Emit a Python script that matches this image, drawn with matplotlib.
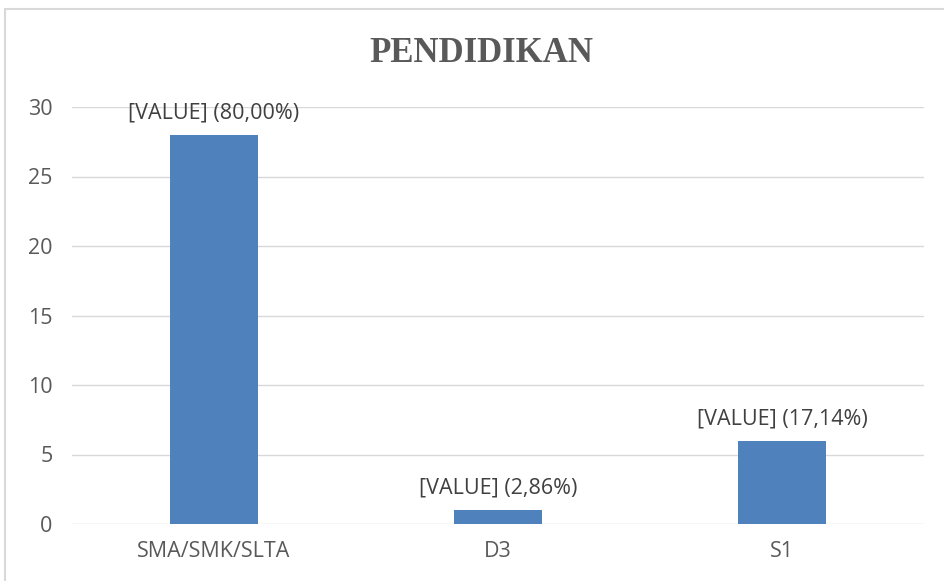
import numpy as np
import matplotlib.pyplot as plt
from matplotlib.patches import Rectangle

categories = ['SMA/SMK/SLTA', 'D3', 'S1']
counts = [28, 1, 6]
percents = ['80,00%', '2,86%', '17,14%']
yticks = [0, 5, 10, 15, 20, 25, 30]

plt.rcParams['font.family'] = ['Open Sans', 'DejaVu Sans']

fig = plt.figure(figsize=(9.44, 5.81), dpi=100)
ax = fig.add_axes([72 / 944, 57 / 581, 852 / 944, 417 / 581])

x = np.arange(len(categories))
ax.bar(x, counts, width=0.31, color='#4F81BD', zorder=3)

for xi, c, p in zip(x, counts, percents):
    ax.annotate('[VALUE] (%s)' % p, (xi, c), xytext=(0, 8), textcoords='offset points',
                ha='center', va='bottom', fontsize=15.5, color='#404040', zorder=4)

ax.set_xlim(-0.5, 2.5)
ax.set_ylim(0, 30)
ax.set_yticks(yticks)
ax.set_xticks(x)
ax.set_xticklabels(categories)
ax.tick_params(axis='both', length=0, labelsize=15.5, labelcolor='#595959')
ax.tick_params(axis='x', pad=12)
ax.tick_params(axis='y', pad=14)
ax.grid(axis='y', color='#D9D9D9', linewidth=1, zorder=0)
for s in ax.spines.values():
    s.set_visible(False)

fig.text(481 / 944, 1 - 54 / 581, 'PENDIDIKAN', ha='center', va='center',
         fontsize=25, fontweight='bold', color='#595959', family='Liberation Serif')

fig.patches.append(Rectangle((5 / 944, -0.1), 1.2, 1 - 9 / 581 + 0.1, transform=fig.transFigure,
                             fill=False, edgecolor='#D9D9D9', linewidth=1.5))

fig.savefig('out.png', dpi=100)
